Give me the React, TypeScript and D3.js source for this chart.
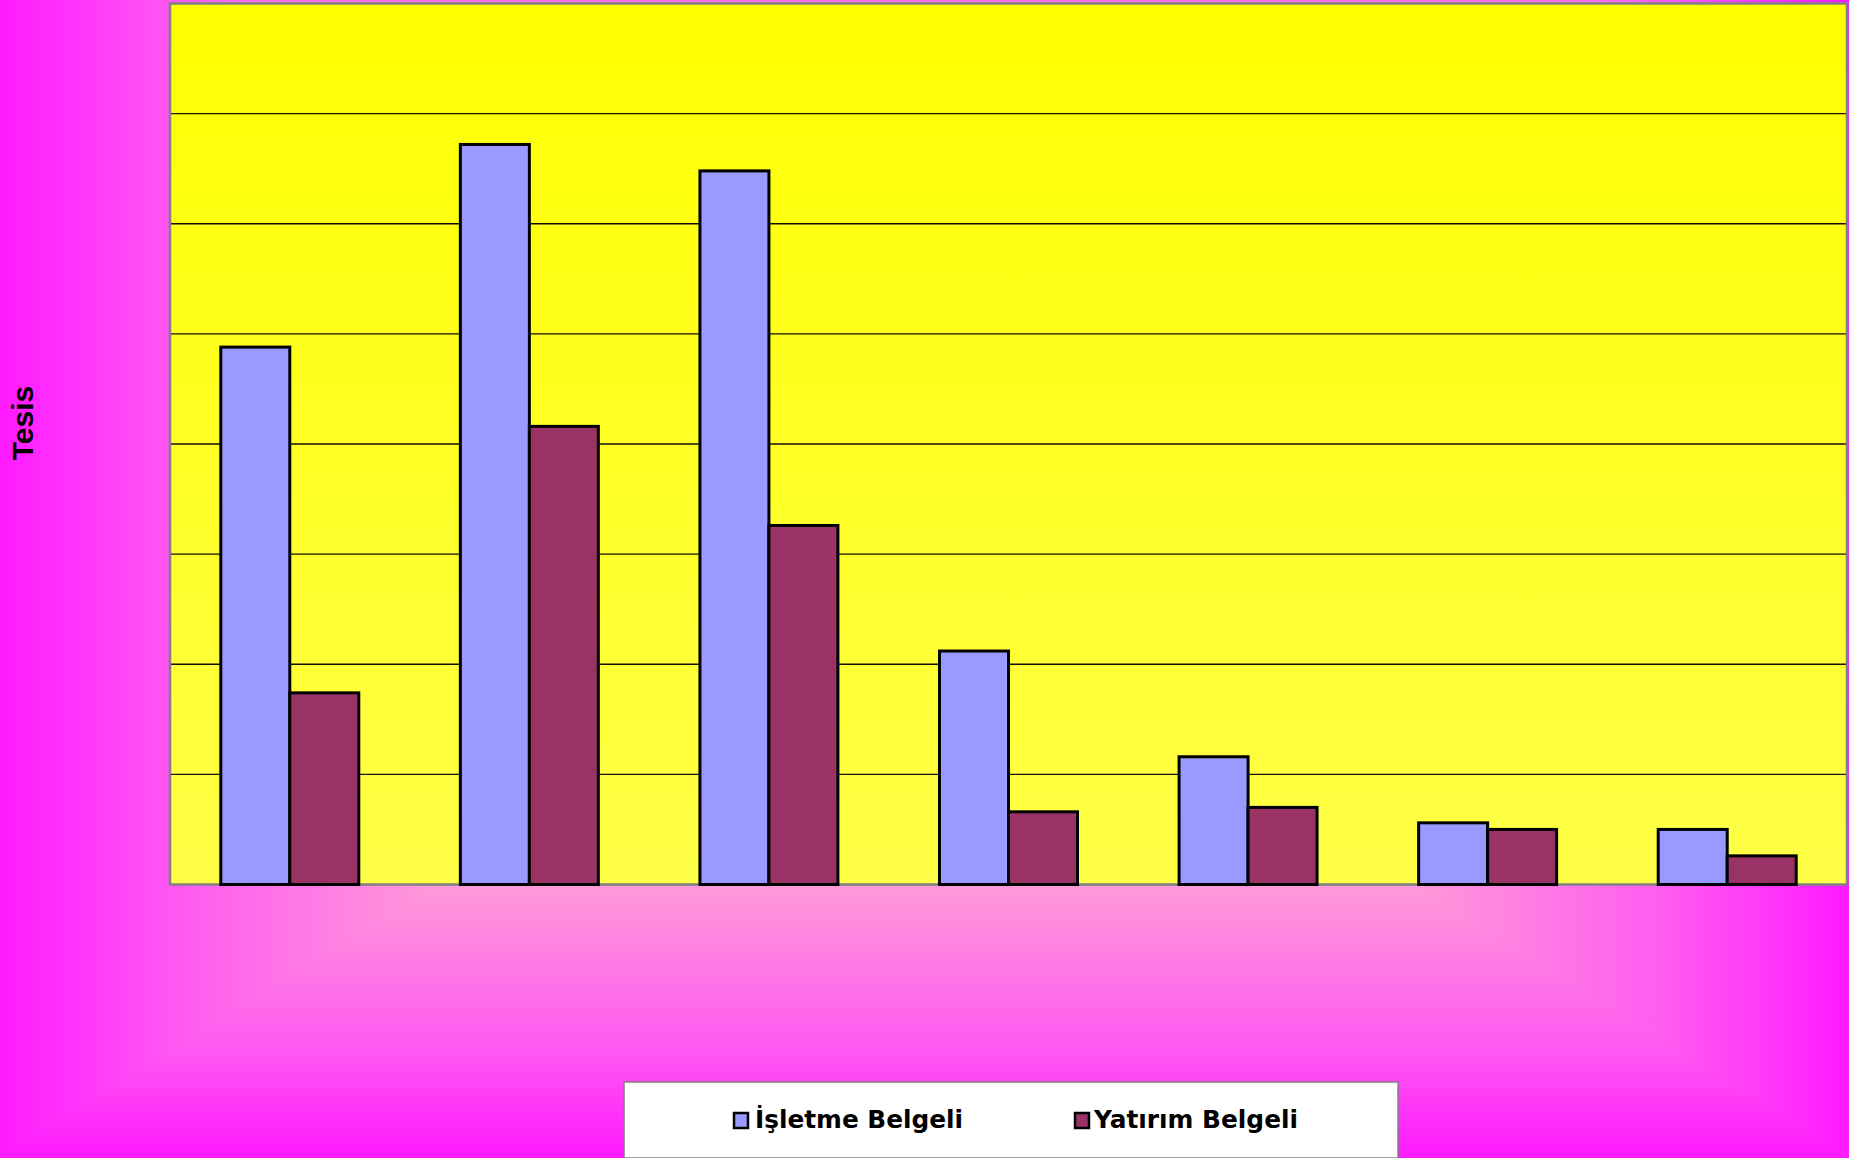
import React from "react";
import * as d3 from "d3";

const categories = ["1", "2", "3", "4", "5", "6", "7"];
const seriesNames = ["İşletme Belgeli", "Yatırım Belgeli"];
const isletmeValues = [244, 336, 324, 106, 58, 28, 25];
const yatirimValues = [87, 208, 163, 33, 35, 25, 13];
const yTicks = [0, 50, 100, 150, 200, 250, 300, 350, 400];
const seriesColors = ["#9999ff", "#993366"];

const W = 1849;
const H = 1158;
const PLOT = { left: 170, right: 1847, top: 3.5, bottom: 884.5 };

export default function App() {
  const x = d3
    .scaleBand<string>()
    .domain(categories)
    .range([PLOT.left, PLOT.right])
    .paddingInner(0.424)
    .paddingOuter(0.212);
  const xs = d3.scaleBand<string>().domain(seriesNames).range([0, x.bandwidth()]).padding(0);
  const y = d3.scaleLinear().domain([0, 400]).range([PLOT.bottom, PLOT.top]);
  const series = [isletmeValues, yatirimValues];

  const cx = W / 2;
  const cy = H / 2;
  const TOP = -220;
  const stops = [
    { o: 0, c: "#ffc0cc" },
    { o: 0.5, c: "#ffa0d6" },
    { o: 0.8, c: "#ff5cf0" },
    { o: 1, c: "#ff1aff" },
  ];
  const tri = [
    { id: "gt", pts: `0,${TOP} ${W},${TOP} ${cx},${cy}`, x2: cx, y2: TOP },
    { id: "gb", pts: `0,${H} ${W},${H} ${cx},${cy}`, x2: cx, y2: H },
    { id: "gl", pts: `0,${TOP} 0,${H} ${cx},${cy}`, x2: 0, y2: cy },
    { id: "gr", pts: `${W},${TOP} ${W},${H} ${cx},${cy}`, x2: W, y2: cy },
  ];

  const legendItems = [
    { name: seriesNames[0], color: seriesColors[0], mx: 734, tx: 755, len: 208 },
    { name: seriesNames[1], color: seriesColors[1], mx: 1075, tx: 1094, len: 204 },
  ];

  return (
    <svg
      width={W}
      height={H}
      style={{ position: "absolute", left: 0, top: 0, display: "block" }}
      xmlns="http://www.w3.org/2000/svg"
    >
      <defs>
        {tri.map((t) => (
          <linearGradient
            key={t.id}
            id={t.id}
            gradientUnits="userSpaceOnUse"
            x1={cx}
            y1={cy}
            x2={t.x2}
            y2={t.y2}
          >
            {stops.map((s) => (
              <stop key={s.o} offset={s.o} stopColor={s.c} />
            ))}
          </linearGradient>
        ))}
        <linearGradient id="plotGrad" x1="0" y1="0" x2="0" y2="1">
          <stop offset="0" stopColor="#ffff00" />
          <stop offset="1" stopColor="#ffff48" />
        </linearGradient>
      </defs>

      <rect x={0} y={0} width={W} height={H} fill="#ff60ee" />
      {tri.map((t) => (
        <polygon key={t.id} points={t.pts} fill={`url(#${t.id})`} stroke={`url(#${t.id})`} strokeWidth={0.6} />
      ))}

      {/* plot area */}
      <rect
        x={PLOT.left}
        y={PLOT.top}
        width={PLOT.right - PLOT.left}
        height={PLOT.bottom - PLOT.top}
        fill="url(#plotGrad)"
      />
      {yTicks
        .filter((v) => v > 0 && v < 400)
        .map((v) => (
          <line
            key={v}
            x1={PLOT.left}
            x2={PLOT.right}
            y1={y(v)}
            y2={y(v)}
            stroke="#111"
            strokeWidth={1.3}
          />
        ))}
      <rect
        x={PLOT.left}
        y={PLOT.top}
        width={PLOT.right - PLOT.left}
        height={PLOT.bottom - PLOT.top}
        fill="none"
        stroke="#808080"
        strokeWidth={2.5}
      />

      {/* bars */}
      {categories.map((cat, i) =>
        series.map((vals, s) => {
          const bx = (x(cat) ?? 0) + (xs(seriesNames[s]) ?? 0);
          const by = y(vals[i]);
          return (
            <rect
              key={`${cat}-${s}`}
              x={bx}
              y={by}
              width={xs.bandwidth()}
              height={y(0) - by}
              fill={seriesColors[s]}
              stroke="#000"
              strokeWidth={3}
            />
          );
        })
      )}

      {/* y axis title */}
      <text
        transform={`translate(22,423) rotate(-90)`}
        textAnchor="middle"
        dominantBaseline="central"
        fontFamily="'Liberation Sans', Arial, sans-serif"
        fontWeight="bold"
        fontSize={30}
        fill="#000"
      >
        Tesis
      </text>

      {/* legend */}
      <rect x={624} y={1082} width={774} height={76} fill="#ffffff" stroke="#808080" strokeWidth={1.5} />
      {legendItems.map((it) => (
        <g key={it.name}>
          <rect x={it.mx} y={1113} width={14} height={15} fill={it.color} stroke="#000" strokeWidth={2.5} />
          <text
            x={it.tx}
            y={1128}
            fontFamily="'DejaVu Sans', Verdana, sans-serif"
            fontWeight="bold"
            fontSize={24}
            textLength={it.len}
            lengthAdjust="spacingAndGlyphs"
            fill="#000"
          >
            {it.name}
          </text>
        </g>
      ))}
    </svg>
  );
}
